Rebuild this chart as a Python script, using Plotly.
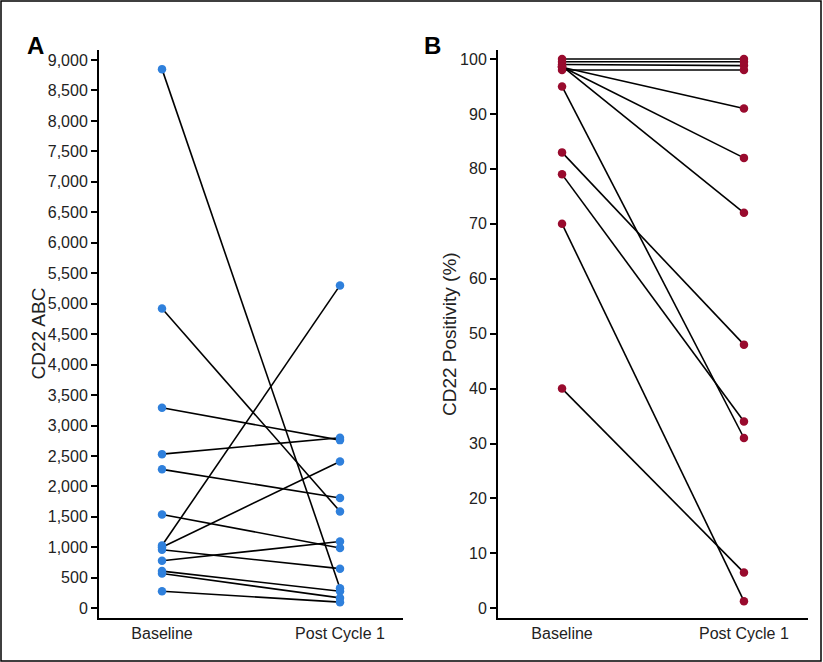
import plotly.graph_objects as go

# panel A: CD22 antibodies bound per cell
base_abc = [8850, 4920, 3290, 2530, 2280, 1540, 1030, 1000, 960, 780, 610, 570, 280]
post_abc = [330, 1590, 2760, 2800, 1810, 990, 5300, 2410, 650, 1095, 280, 170, 100]

# panel B: CD22 positivity (%)
base_pos = [100, 99.5, 99, 98, 98.5, 98.6, 98.7, 95, 83, 79, 70, 40]
post_pos = [100, 99.5, 98.8, 98, 91, 82, 72, 31, 48, 34, 1.3, 6.5]

x_labels = ["Baseline", "Post Cycle 1"]

W, H = 823, 662


def px_x(p):
    return p / W


def px_y(p):
    return 1 - p / H


def pairs(b, p):
    xs, ys = [], []
    for u, v in zip(b, p):
        xs += [0, 1, None]
        ys += [u, v, None]
    return xs, ys


fig = go.Figure()

xa, ya = pairs(base_abc, post_abc)
fig.add_trace(go.Scatter(x=xa, y=ya, mode="lines+markers", xaxis="x", yaxis="y",
                         line=dict(color="black", width=1.6),
                         marker=dict(color="#2f80dc", size=8.5), showlegend=False))
xb, yb = pairs(base_pos, post_pos)
fig.add_trace(go.Scatter(x=xb, y=yb, mode="lines+markers", xaxis="x2", yaxis="y2",
                         line=dict(color="black", width=1.6),
                         marker=dict(color="#990b2e", size=8.5), showlegend=False))

tickfont = dict(family="Liberation Sans, Arial", size=16, color="#222")
ax_common = dict(showline=True, linecolor="black", linewidth=2, showgrid=False,
                 zeroline=False, tickfont=tickfont)

fig.update_layout(
    width=W, height=H, margin=dict(l=0, r=0, t=0, b=0),
    paper_bgcolor="white", plot_bgcolor="white",
    xaxis=dict(domain=[px_x(99), px_x(403)], range=[-0.354, 1.354], anchor="y",
               tickvals=[0, 1], ticktext=x_labels, ticks="", **ax_common),
    yaxis=dict(domain=[px_y(618), px_y(50)], range=[-160, 9164], anchor="x",
               dtick=500, tickformat=",d", ticks="outside", ticklen=6, tickwidth=1.5,
               tickcolor="black", **ax_common),
    xaxis2=dict(domain=[px_x(498), px_x(808)], range=[-0.352, 1.352], anchor="y2",
                tickvals=[0, 1], ticktext=x_labels, ticks="", **ax_common),
    yaxis2=dict(domain=[px_y(618), px_y(50)], range=[-1.77, 101.64], anchor="x2",
                dtick=10, ticks="outside", ticklen=6, tickwidth=1.5,
                tickcolor="black", **ax_common),
)

titlefont = dict(family="Liberation Sans, Arial", size=19, color="#222")
fig.add_annotation(x=px_x(25), y=px_y(334), xref="paper", yref="paper", text="CD22 ABC",
                   textangle=-90, showarrow=False, font=titlefont)
fig.add_annotation(x=px_x(449), y=px_y(334), xref="paper", yref="paper", text="CD22 Positivity (%)",
                   textangle=-90, showarrow=False, font=titlefont)

panelfont = dict(family="Liberation Sans, Arial", size=24, color="black")
fig.add_annotation(x=px_x(25), y=px_y(30), xref="paper", yref="paper", text="<b>A</b>",
                   showarrow=False, font=panelfont)
fig.add_annotation(x=px_x(432), y=px_y(30), xref="paper", yref="paper", text="<b>B</b>",
                   showarrow=False, font=panelfont)

# thin frame around the figure
fig.add_shape(type="rect", xref="paper", yref="paper", x0=px_x(1), x1=px_x(821),
              y0=px_y(661), y1=px_y(1), line=dict(color="black", width=1.5))

fig.write_html("out.html", config={"displayModeBar": False},
               post_script="document.body.style.margin='0';document.body.style.overflow='hidden';")
